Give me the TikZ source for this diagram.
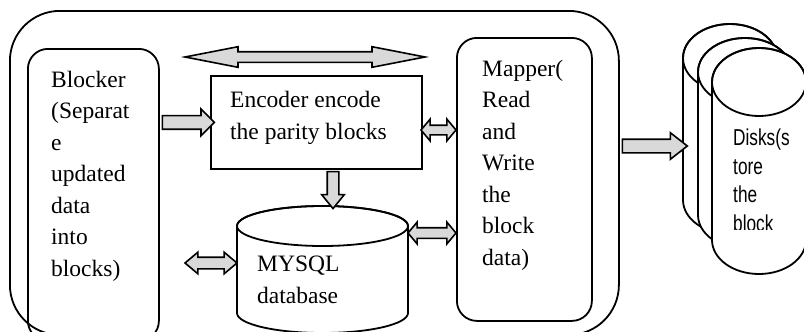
\documentclass[tikz,border=0pt]{standalone}
\usepackage{fontspec}
\setmainfont{Liberation Serif}
\newfontfamily\diskfont[FakeStretch=0.75]{Liberation Sans}
\usetikzlibrary{shapes.arrows,calc}

\begin{document}
\begin{tikzpicture}[x=1pt,y=-1pt]
  %
  \tikzstyle{box} = [draw, line width=1.8pt, inner sep=0pt, anchor=north west]
  \tikzstyle{txt} = [anchor=base west, align=left, inner sep=0pt, font=\fontsize{23.5}{31.5}\selectfont]
  \tikzstyle{can} = [draw, fill=white, line width=1.8pt]
  \tikzstyle{sarr} = [single arrow, draw, fill=gray!30, line width=1.6pt, inner xsep=0pt, minimum width=0pt]
  \tikzstyle{darr} = [double arrow, draw, fill=gray!30, line width=1.6pt, inner xsep=0pt, minimum width=0pt]
  \clip (0,0) rectangle (804,332);
  %
  \node[box, rounded corners=50pt, minimum width=609pt, minimum height=324pt] (system) at (9,10) {};
  \node[box, rounded corners=20pt, minimum width=131pt, minimum height=292pt] (blocker) at (27,48) {};
  \node[box, minimum width=211pt, minimum height=93pt] (encoder) at (210,75) {};
  \node[box, rounded corners=20pt, minimum width=135pt, minimum height=283pt] (mapper) at (456,37) {};
  % database
  \draw[can] (237,226) -- (237,313) arc[start angle=180, end angle=0, x radius=85.5, y radius=20]
    -- (408,226) arc[start angle=0, end angle=-180, x radius=85.5, y radius=20] -- cycle;
  \draw[line width=1.8pt] (322.5,226) ellipse[x radius=85.5, y radius=20];
  % disks
  \draw[can] (683,58) -- (683,200) arc[start angle=180, end angle=0, x radius=47, y radius=34]
    -- (777,58) arc[start angle=0, end angle=-180, x radius=47, y radius=34] -- cycle;
  \draw[line width=1.8pt] (730,58) ellipse[x radius=47, y radius=34];
  \draw[can] (698,72) -- (698,215) arc[start angle=180, end angle=0, x radius=47, y radius=34]
    -- (792,72) arc[start angle=0, end angle=-180, x radius=47, y radius=34] -- cycle;
  \draw[line width=1.8pt] (745,72) ellipse[x radius=47, y radius=34];
  \draw[can] (712,82) -- (712,240) arc[start angle=180, end angle=0, x radius=47, y radius=34]
    -- (806,82) arc[start angle=0, end angle=-180, x radius=47, y radius=34] -- cycle;
  \draw[line width=1.8pt] (759,82) ellipse[x radius=47, y radius=34];
  %
  \node[sarr, inner ysep=6pt, single arrow head extend=6.5pt, minimum height=52pt]
    (b2e) at ($(blocker.east |- encoder.west)!.5!(encoder.west)$) {};
  \node[sarr, inner ysep=5pt, single arrow head extend=5.5pt, single arrow tip angle=78, minimum height=37pt, rotate=-90]
    (e2db) at (333,186.5) {};
  \node[sarr, inner ysep=6pt, single arrow head extend=6.5pt, single arrow tip angle=76, minimum height=65pt]
    (m2d) at (650.5,146) {};
  \node[darr, inner ysep=4.5pt, double arrow head extend=5pt, double arrow tip angle=22, minimum height=240pt]
    (top) at (305,57) {};
  \node[darr, inner ysep=4pt, double arrow head extend=6pt, double arrow tip angle=100, minimum height=35pt]
    (e2m) at (438.5,130) {};
  \node[darr, inner ysep=4.5pt, double arrow head extend=5.5pt, double arrow tip angle=100, minimum height=48pt]
    (db2m) at (432,233) {};
  \node[darr, inner ysep=5pt, double arrow head extend=5pt, double arrow tip angle=80, minimum height=52pt]
    (db2b) at (211,263) {};
  %
  \node[txt] (blocker-t) at (51,276) {Blocker\\(Separat\\e\\updated\\data\\into\\blocks)};
  \node[txt] (encoder-t) at (230,139) {Encoder encode\\the parity blocks};
  \node[txt] (mysql-t) at (257,303) {MYSQL\\database};
  \node[txt] (mapper-t) at (482,265) {Mapper(\\Read\\and\\Write\\the\\block\\data)};
  \begin{scope}
    \clip (700,100) rectangle (804,229.5);
    \node[txt, font=\diskfont\fontsize{23}{28.5}\selectfont] (disk-t) at (733,231) {Disks(s\\tore\\the\\block};
  \end{scope}
\end{tikzpicture}
\end{document}
